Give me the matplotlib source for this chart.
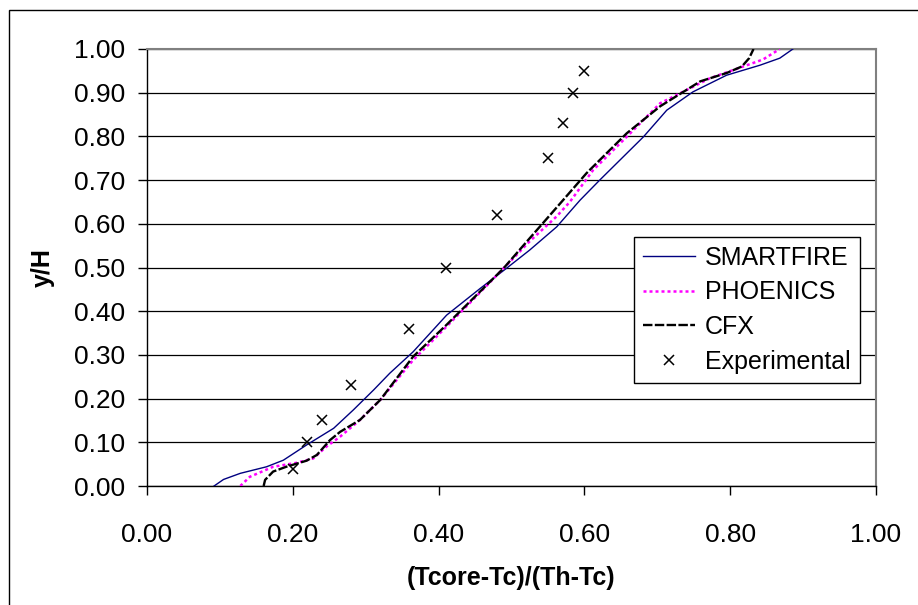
import matplotlib
matplotlib.use("Agg")
import matplotlib.pyplot as plt
from matplotlib.patches import Rectangle

plt.rcParams['font.family'] = ['Liberation Sans', 'DejaVu Sans']

smartfire_x = [0.092, 0.105, 0.128, 0.164, 0.187, 0.219, 0.256, 0.283, 0.311, 0.333, 0.365,
               0.411, 0.457, 0.493, 0.525, 0.562, 0.594, 0.621, 0.681, 0.713, 0.749, 0.795,
               0.841, 0.868, 0.886]
smartfire_y = [0.0, 0.015, 0.029, 0.044, 0.059, 0.094, 0.132, 0.174, 0.220, 0.258, 0.307,
               0.391, 0.452, 0.498, 0.540, 0.593, 0.654, 0.700, 0.799, 0.860, 0.902, 0.940,
               0.963, 0.979, 1.0]

phoenics_x = [0.128, 0.141, 0.173, 0.205, 0.228, 0.246, 0.265, 0.292, 0.320, 0.365, 0.411,
              0.447, 0.489, 0.525, 0.562, 0.580, 0.612, 0.658, 0.704, 0.740, 0.772, 0.818,
              0.845, 0.868]
phoenics_y = [0.0, 0.021, 0.044, 0.053, 0.063, 0.090, 0.113, 0.151, 0.197, 0.288, 0.365,
              0.426, 0.498, 0.560, 0.617, 0.650, 0.723, 0.799, 0.876, 0.906, 0.933, 0.960,
              0.976, 1.0]

cfx_x = [0.160, 0.162, 0.173, 0.191, 0.219, 0.233, 0.251, 0.265, 0.292, 0.320, 0.365, 0.411,
         0.489, 0.525, 0.567, 0.603, 0.658, 0.704, 0.759, 0.795, 0.816, 0.826, 0.832]
cfx_y = [0.0, 0.014, 0.033, 0.044, 0.058, 0.071, 0.105, 0.124, 0.151, 0.197, 0.296, 0.369,
         0.498, 0.567, 0.647, 0.716, 0.807, 0.869, 0.926, 0.945, 0.960, 0.979, 1.0]

exp_x = [0.20, 0.22, 0.24, 0.28, 0.36, 0.41, 0.48, 0.55, 0.57, 0.585, 0.60]
exp_y = [0.04, 0.10, 0.15, 0.23, 0.36, 0.50, 0.62, 0.75, 0.83, 0.90, 0.95]

x_ticks = [0.0, 0.2, 0.4, 0.6, 0.8, 1.0]
y_ticks = [0.0, 0.1, 0.2, 0.3, 0.4, 0.5, 0.6, 0.7, 0.8, 0.9, 1.0]

W, H = 918, 605
fig = plt.figure(figsize=(W / 100, H / 100), dpi=100)
ax = fig.add_axes([147 / W, 1 - 486 / H, (876 - 147) / W, (486 - 49) / H])

# outer chart frame
fig.patches.append(Rectangle((9 / W, -0.2), 1.2, 1 - 10 / H + 0.2, transform=fig.transFigure,
                             fill=False, edgecolor='black', linewidth=1.0))

ax.plot(smartfire_x, smartfire_y, color='#000080', lw=1.0, label='SMARTFIRE', zorder=3)
ax.plot(phoenics_x, phoenics_y, color='#FF00FF', lw=1.8, linestyle=(0, (1.2, 1.2)),
        label='PHOENICS', zorder=4)
ax.plot(cfx_x, cfx_y, color='black', lw=1.7, linestyle=(0, (4, 1.0)), label='CFX', zorder=5)
ax.plot(exp_x, exp_y, linestyle='none', marker='x', color='black', markersize=6.5,
        markeredgewidth=1.1, label='Experimental', zorder=6)

ax.set_xlim(0, 1)
ax.set_ylim(0, 1)
ax.set_xticks(x_ticks)
ax.set_yticks(y_ticks)
ax.set_xticklabels([f"{v:.2f}" for v in x_ticks])
ax.set_yticklabels([f"{v:.2f}" for v in y_ticks])
ax.tick_params(axis='both', direction='out', length=6.5, width=1, labelsize=19, colors='black')
ax.tick_params(axis='x', pad=20)
ax.tick_params(axis='y', pad=9)

ax.yaxis.grid(True, color='black', linewidth=0.9)
ax.set_axisbelow(True)
for s in ['left', 'bottom']:
    ax.spines[s].set_color('black')
    ax.spines[s].set_linewidth(1.0)
for s in ['top', 'right']:
    ax.spines[s].set_color('#808080')
    ax.spines[s].set_linewidth(1.5)

fig.text(511.5 / W, 1 - 578 / H, '(Tcore-Tc)/(Th-Tc)', ha='center', va='center',
         fontsize=18, fontweight='bold')
fig.text(43 / W, 1 - 268 / H, 'y/H', ha='center', va='center', rotation=90,
         fontsize=18, fontweight='bold')

leg = ax.legend(loc='upper left', bbox_to_anchor=(634 / W, 1 - 237 / H),
                bbox_transform=fig.transFigure, borderaxespad=0, fontsize=18,
                frameon=True, fancybox=False, edgecolor='black', framealpha=1,
                handlelength=2.1, handletextpad=0.4, labelspacing=0.43, borderpad=0.35)
leg.get_frame().set_linewidth(1.0)

fig.savefig('out.png', dpi=100)
